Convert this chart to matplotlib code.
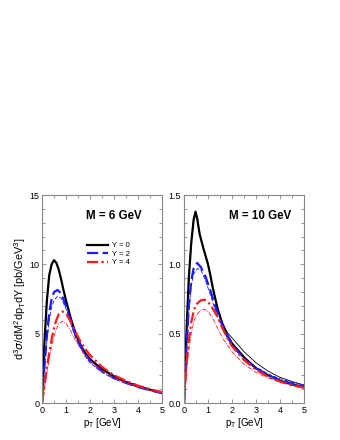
import matplotlib.pyplot as plt
import numpy as np

# M = 6 GeV panel
pt6_y0 = [0, 0.1, 0.2, 0.3, 0.4, 0.5, 0.6, 0.7, 0.8, 0.9, 1.0, 1.2, 1.4, 1.6, 1.8, 2.0, 2.3, 2.5, 3.0, 3.5, 4.0, 4.5, 5.0]
m6_y0 = [0, 4.3, 7.3, 9.2, 10.0, 10.3, 10.1, 9.6, 8.9, 8.1, 7.4, 6.1, 5.0, 4.2, 3.6, 3.15, 2.7, 2.45, 1.9, 1.5, 1.2, 0.95, 0.72]
m6_y0_thin = [0, 4.3, 7.3, 9.2, 10.0, 10.3, 10.1, 9.6, 8.9, 8.1, 7.4, 6.1, 5.0, 4.2, 3.65, 3.22, 2.78, 2.52, 1.97, 1.56, 1.25, 0.99, 0.76]

pt6_y2 = [0, 0.1, 0.2, 0.3, 0.4, 0.5, 0.65, 0.8, 1.0, 1.2, 1.4, 1.6, 1.8, 2.0, 2.5, 3.0, 3.5, 4.0, 4.5, 5.0]
m6_y2 = [0, 2.6, 4.9, 6.5, 7.5, 8.0, 8.15, 7.9, 7.0, 5.9, 4.9, 4.15, 3.55, 3.05, 2.3, 1.8, 1.45, 1.15, 0.92, 0.72]
m6_y2_thin = [0, 2.3, 4.4, 5.9, 6.9, 7.4, 7.7, 7.55, 6.8, 5.7, 4.7, 3.95, 3.35, 2.9, 2.2, 1.75, 1.42, 1.15, 0.93, 0.75]

pt6_y4 = [0, 0.1, 0.2, 0.3, 0.4, 0.5, 0.6, 0.7, 0.85, 1.0, 1.2, 1.4, 1.6, 1.8, 2.0, 2.5, 3.0, 3.5, 4.0, 4.5, 5.0]
m6_y4 = [0, 1.2, 2.5, 3.6, 4.6, 5.4, 6.0, 6.4, 6.6, 6.45, 5.85, 5.1, 4.45, 3.9, 3.45, 2.6, 2.0, 1.6, 1.25, 1.0, 0.78]
m6_y4_thin = [0, 1.0, 2.2, 3.2, 4.1, 4.8, 5.35, 5.7, 5.9, 5.75, 5.2, 4.5, 3.95, 3.45, 3.05, 2.3, 1.8, 1.45, 1.15, 0.92, 0.74]

# M = 10 GeV panel
pt10_y0 = [0, 0.05, 0.1, 0.2, 0.3, 0.4, 0.48, 0.55, 0.65, 0.8, 1.0, 1.1, 1.2, 1.4, 1.6, 1.8, 2.0, 2.5, 3.0, 3.5, 4.0, 4.5, 5.0]
m10_y0 = [0, 0.25, 0.5, 0.9, 1.15, 1.32, 1.38, 1.33, 1.22, 1.12, 1.0, 0.92, 0.83, 0.68, 0.57, 0.49, 0.43, 0.33, 0.25, 0.2, 0.16, 0.135, 0.115]
m10_y0_thin = [0, 0.25, 0.5, 0.9, 1.15, 1.32, 1.38, 1.33, 1.22, 1.12, 1.0, 0.92, 0.83, 0.68, 0.58, 0.51, 0.47, 0.37, 0.29, 0.23, 0.185, 0.155, 0.13]

pt10_y2 = [0, 0.1, 0.2, 0.3, 0.4, 0.55, 0.7, 0.9, 1.1, 1.3, 1.5, 1.7, 2.0, 2.5, 3.0, 3.5, 4.0, 4.5, 5.0]
m10_y2 = [0, 0.38, 0.7, 0.88, 0.97, 1.01, 0.98, 0.91, 0.81, 0.7, 0.6, 0.52, 0.42, 0.32, 0.25, 0.2, 0.165, 0.14, 0.12]
m10_y2_thin = [0, 0.35, 0.65, 0.84, 0.93, 0.97, 0.96, 0.88, 0.78, 0.67, 0.58, 0.5, 0.41, 0.32, 0.26, 0.21, 0.175, 0.15, 0.13]

pt10_y4 = [0, 0.1, 0.2, 0.3, 0.4, 0.5, 0.7, 0.85, 1.0, 1.2, 1.4, 1.6, 1.8, 2.0, 2.5, 3.0, 3.5, 4.0, 4.5, 5.0]
m10_y4 = [0, 0.28, 0.45, 0.58, 0.66, 0.71, 0.74, 0.745, 0.73, 0.68, 0.62, 0.54, 0.47, 0.41, 0.31, 0.24, 0.19, 0.155, 0.13, 0.11]
m10_y4_thin = [0, 0.22, 0.38, 0.5, 0.58, 0.63, 0.67, 0.675, 0.66, 0.61, 0.54, 0.47, 0.42, 0.37, 0.28, 0.22, 0.18, 0.15, 0.125, 0.105]

x_ticks = [0, 1, 2, 3, 4, 5]
y_ticks_6 = [0, 5, 10, 15]
y_ticks_10 = [0.0, 0.5, 1.0, 1.5]
y_ticklabels_10 = ["0.0", "0.5", "1.0", "1.5"]

plt.rcParams['font.family'] = ['Liberation Sans', 'DejaVu Sans']

fig = plt.figure(figsize=(3.4, 4.4), dpi=100)
ax1 = fig.add_axes([42 / 340, 37 / 440, 120 / 340, 208 / 440])
ax2 = fig.add_axes([184 / 340, 37 / 440, 120 / 340, 208 / 440])

styles = {
    "y0": dict(color="black", ls="-"),
    "y2": dict(color="#1a1aff", ls=(0, (5, 2))),
    "y4": dict(color="#ff1a1a", ls=(0, (5, 1.5, 1, 1.5))),
}


def draw(ax, data):
    for key, x, thick, thin, lab in data:
        st = styles[key]
        ax.plot(x, thin, color=st["color"], ls=st["ls"], lw=0.6)
        ax.plot(x, thick, color=st["color"], ls=st["ls"], lw=1.6, label=lab)


draw(ax1, [
    ("y0", pt6_y0, m6_y0, m6_y0_thin, "Y = 0"),
    ("y2", pt6_y2, m6_y2, m6_y2_thin, "Y = 2"),
    ("y4", pt6_y4, m6_y4, m6_y4_thin, "Y = 4"),
])
draw(ax2, [
    ("y0", pt10_y0, m10_y0, m10_y0_thin, "Y = 0"),
    ("y2", pt10_y2, m10_y2, m10_y2_thin, "Y = 2"),
    ("y4", pt10_y4, m10_y4, m10_y4_thin, "Y = 4"),
])

for ax, ymax, yt, minor in [(ax1, 15, y_ticks_6, 1.0), (ax2, 1.5, y_ticks_10, 0.1)]:
    ax.set_xlim(0, 5)
    ax.set_ylim(0, ymax)
    ax.set_xticks(x_ticks)
    ax.set_xticks(np.arange(0, 5.01, 0.5), minor=True)
    ax.set_yticks(yt)
    ax.set_yticks(np.arange(0, ymax + 1e-6, minor), minor=True)
    ax.tick_params(which="both", direction="in", top=True, right=True,
                   labelsize=6.5, color="#888888", width=0.6, pad=2)
    ax.tick_params(which="major", length=3)
    ax.tick_params(which="minor", length=2)
    for s in ax.spines.values():
        s.set_color("#888888")
        s.set_linewidth(0.8)
    ax.set_xlabel(r"p$_\mathregular{T}$ [GeV]", fontsize=7, labelpad=1)

ax2.set_yticklabels(y_ticklabels_10)

ax1.set_ylabel(r"d$^\mathregular{3}\sigma$/dM$^\mathregular{2}$dp$_\mathregular{T}$dY [pb/GeV$^\mathregular{3}$]",
               fontsize=7.8, labelpad=1)

ax1.text(0.6, 0.9, "M = 6 GeV", transform=ax1.transAxes, fontsize=8.3,
         fontweight="bold", ha="center", va="center")
ax2.text(0.63, 0.9, "M = 10 GeV", transform=ax2.transAxes, fontsize=8.3,
         fontweight="bold", ha="center", va="center")

ax1.legend(loc="upper left", bbox_to_anchor=(0.33, 0.8), frameon=False,
           fontsize=5.5, handlelength=2.8, handletextpad=0.5,
           labelspacing=0.15, borderpad=0.2)

fig.savefig("out.png", dpi=100)
